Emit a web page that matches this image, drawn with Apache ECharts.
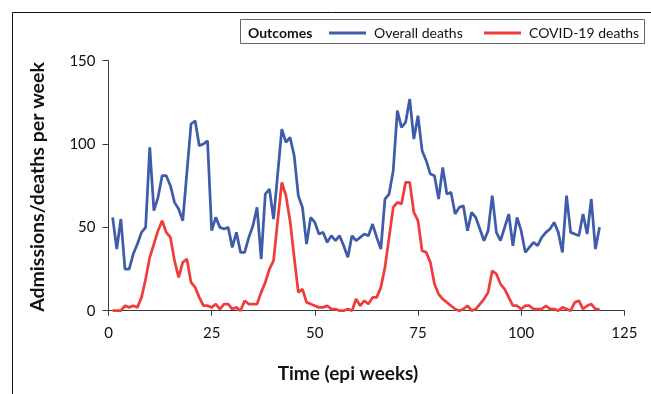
<!DOCTYPE html>
<html>
<head>
<meta charset="utf-8">
<script src="https://cdn.jsdelivr.net/npm/echarts@6/dist/echarts.min.js"></script>
<style>
html,body{margin:0;padding:0;background:#fff;}
#chart{width:651px;height:394px;}
</style>
</head>
<body>
<div id="chart"></div>
<script>
var weeks = [1,2,3,4,5,6,7,8,9,10,11,12,13,14,15,16,17,18,19,20,
  21,22,23,24,25,26,27,28,29,30,31,32,33,34,35,36,37,38,39,40,
  41,42,43,44,45,46,47,48,49,50,51,52,53,54,55,56,57,58,59,60,
  61,62,63,64,65,66,67,68,69,70,71,72,73,74,75,76,77,78,79,80,
  81,82,83,84,85,86,87,88,89,90,91,92,93,94,95,96,97,98,99,100,
  101,102,103,104,105,106,107,108,109,110,111,112,113,114,115,116,117,118,119];

var overallDeaths = [56,37,55,25,25,34,40,47,50,98,60,68,81,81,75,65,61,54,83,112,
  114,99,100,102,48,56,50,49,50,38,47,35,35,44,51,62,31,70,73,55,
  82,109,101,104,93,69,62,40,56,53,46,47,41,45,42,45,39,32,45,42,
  44,46,45,52,44,37,67,70,84,120,110,113,127,103,117,96,90,82,81,67,
  86,70,71,58,62,63,48,59,56,49,42,48,69,47,42,50,58,39,56,48,
  35,38,41,39,44,47,49,53,47,35,69,47,46,45,58,46,67,37,50];

var covidDeaths = [0,0,0,3,2,3,2,8,19,32,40,48,54,47,44,30,20,29,31,17,
  14,8,3,3,2,4,1,4,4,1,2,0,6,4,4,4,11,17,25,30,
  54,77,69,54,32,11,13,5,4,3,2,2,3,1,1,0,0,1,0,7,
  3,6,4,8,8,14,26,44,62,65,64,77,77,59,54,36,35,29,16,10,
  7,5,3,1,0,1,3,0,1,4,7,11,24,22,16,13,8,3,3,1,
  3,3,1,1,1,3,1,1,0,2,1,0,5,6,1,3,4,1,1];

var seriesNames = ['Overall deaths', 'COVID-19 deaths'];
var legendTitle = 'Outcomes';
var xTitle = 'Time (epi weeks)';
var yTitle = 'Admissions/deaths per week';

function pairs(vals) {
  var out = [];
  for (var i = 0; i < vals.length; i++) out.push([weeks[i], vals[i]]);
  return out;
}

var FONT = 'Lato';
var BLUE = '#3e5ca9';
var RED = '#ef3d3b';

var chart = echarts.init(document.getElementById('chart'), null, {renderer: 'canvas'});
chart.setOption({
  animation: false,
  backgroundColor: '#ffffff',
  grid: {left: 108.5, right: 26.7, top: 60.7, bottom: 83.3},
  xAxis: {
    type: 'value', min: 0, max: 125, interval: 25,
    axisLine: {show: true, lineStyle: {color: '#3a3a3a', width: 1}},
    axisTick: {show: true, length: 5, lineStyle: {color: '#3a3a3a'}},
    axisLabel: {margin: 15, color: '#111', fontFamily: FONT, fontSize: 15},
    splitLine: {show: false}
  },
  yAxis: {
    type: 'value', min: 0, max: 150, interval: 50,
    axisLine: {show: true, lineStyle: {color: '#3a3a3a', width: 1}},
    axisTick: {show: true, length: 6, lineStyle: {color: '#3a3a3a'}},
    axisLabel: {margin: 13, color: '#111', fontFamily: FONT, fontSize: 15},
    splitLine: {show: false}
  },
  legend: [
    {data: [seriesNames[0]], left: 329, top: 26, itemWidth: 37, itemHeight: 3, icon: 'rect', padding: 0,
     textStyle: {fontFamily: FONT, fontSize: 14, color: '#111', padding: [0, 0, 0, 3]}},
    {data: [seriesNames[1]], left: 484, top: 26, itemWidth: 37, itemHeight: 3, icon: 'rect', padding: 0,
     textStyle: {fontFamily: FONT, fontSize: 14, color: '#111', padding: [0, 0, 0, 3]}}
  ],
  graphic: [
    {type: 'rect', shape: {x: 12.5, y: 12.5, width: 700, height: 500}, style: {fill: null, stroke: '#111', lineWidth: 1}, silent: true},
    {type: 'rect', shape: {x: 240.5, y: 19.5, width: 404, height: 24}, style: {fill: '#fff', stroke: '#666', lineWidth: 1}, silent: true, z: -1},
    {type: 'text', x: 248, y: 33, style: {text: legendTitle, font: 'bold 14px ' + FONT, fill: '#111', textVerticalAlign: 'middle'}},
    {type: 'text', x: 348, y: 374, style: {text: xTitle, font: 'bold 19px ' + FONT, fill: '#111', textAlign: 'center', textVerticalAlign: 'middle'}},
    {type: 'text', x: 38, y: 187, rotation: Math.PI / 2, style: {text: yTitle, font: 'bold 19.5px ' + FONT, fill: '#111', textAlign: 'center', textVerticalAlign: 'middle'}}
  ],
  series: [
    {name: seriesNames[0], type: 'line', data: pairs(overallDeaths), showSymbol: false, symbol: 'none',
     lineStyle: {color: BLUE, width: 2.75}, itemStyle: {color: BLUE}, z: 2},
    {name: seriesNames[1], type: 'line', data: pairs(covidDeaths), showSymbol: false, symbol: 'none',
     lineStyle: {color: RED, width: 2.75}, itemStyle: {color: RED}, z: 3}
  ]
});
</script>
</body>
</html>
